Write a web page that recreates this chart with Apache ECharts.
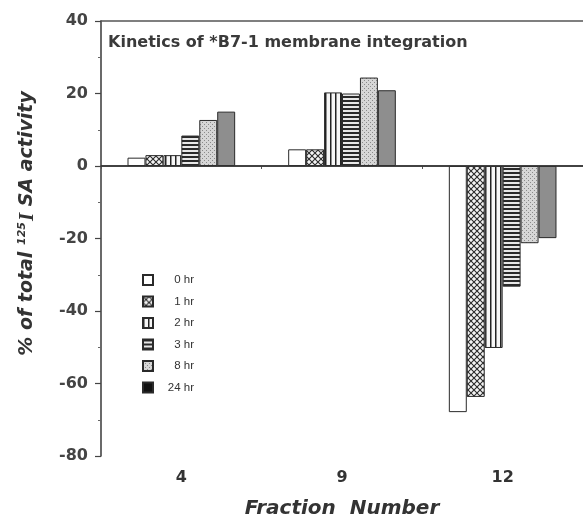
<!DOCTYPE html>
<html>
<head>
<meta charset="utf-8">
<script src="https://cdn.jsdelivr.net/npm/echarts@6/dist/echarts.min.js"></script>
<style>html,body{margin:0;padding:0;background:#fff;}#c{width:583px;height:516px;}</style>
</head>
<body>
<div id="c"></div>
<script>
// ---- data ----
const categories = ['4', '9', '12'];
const seriesNames = ['0 hr', '1 hr', '2 hr', '3 hr', '8 hr', '24 hr'];
const hr0  = [2.3, 4.6, -67.9];
const hr1  = [3.0, 4.6, -63.7];
const hr2  = [3.0, 20.3, -50.2];
const hr3  = [8.4, 20.0, -33.3];
const hr8  = [12.7, 24.4, -21.3];
const hr24 = [15.0, 20.9, -19.9];
const yTicks = { min: -80, max: 40, interval: 20 };
const titleText = 'Kinetics of *B7-1 membrane integration';

// ---- patterns ----
function pat(w, h, draw) {
  const c = document.createElement('canvas');
  c.width = w; c.height = h;
  const g = c.getContext('2d');
  draw(g, w, h);
  return { image: c, repeat: 'repeat' };
}
const fills = [
  '#ffffff',
  pat(6, 6, (g, w, h) => {
    g.fillStyle = '#f4f4f4'; g.fillRect(0, 0, w, h);
    g.strokeStyle = '#2a2a2a'; g.lineWidth = 1.1;
    g.beginPath(); g.moveTo(0, 0); g.lineTo(w, h); g.moveTo(w, 0); g.lineTo(0, h); g.stroke();
  }),
  pat(5, 5, (g, w, h) => {
    g.fillStyle = '#f6f6f6'; g.fillRect(0, 0, w, h);
    g.fillStyle = '#222'; g.fillRect(0, 0, 1.5, h);
  }),
  pat(4, 4, (g, w, h) => {
    g.fillStyle = '#e8e8e8'; g.fillRect(0, 0, w, h);
    g.fillStyle = '#2a2a2a'; g.fillRect(0, 0, w, 2);
  }),
  pat(4, 4, (g, w, h) => {
    g.fillStyle = '#d6d6d6'; g.fillRect(0, 0, w, h);
    g.fillStyle = '#8a8a8a'; g.fillRect(0, 0, 1, 1); g.fillRect(2, 2, 1, 1);
  }),
  '#8e8e8e'
];
const values = [hr0, hr1, hr2, hr3, hr8, hr24];

const chart = echarts.init(document.getElementById('c'));
const series = seriesNames.map((n, i) => ({
  name: n,
  type: 'bar',
  data: values[i],
  barGap: '0%',
  barCategoryGap: '33%',
  itemStyle: { color: fills[i], borderColor: '#2a2a2a', borderWidth: 1 },
  markLine: i === 0 ? {
    silent: true, symbol: 'none', label: { show: false },
    lineStyle: { color: '#333', width: 1.6, type: 'solid' },
    data: [{ yAxis: 0 }]
  } : undefined
}));

chart.setOption({
  animation: false,
  title: {
    text: titleText, left: 108, top: 35, padding: 0,
    textStyle: { fontFamily: 'DejaVu Sans', fontSize: 16, fontWeight: 'bold', color: '#3a3a3a' }
  },
  legend: {
    orient: 'vertical', left: 137, top: 269,
    itemWidth: 10, itemHeight: 10, itemGap: 9.5, icon: 'rect',
    data: seriesNames.map((n, i) => i === 5 ? { name: n, itemStyle: { color: '#111' } } : { name: n }),
    formatter: '{a|{name}}',
    textStyle: {
      rich: { a: { width: 36, align: 'right', fontFamily: 'Liberation Sans', fontSize: 11.5, lineHeight: 12, color: '#333' } }
    }
  },
  grid: { left: 101, right: 0, top: 21, bottom: 60, containLabel: false, outerBoundsMode: 'none' },
  xAxis: [{
    type: 'category', data: categories, position: 'bottom',
    axisLine: { lineStyle: { color: '#444', width: 1.6 } },
    axisTick: { show: true, length: 3, lineStyle: { color: '#555' } },
    axisLabel: { margin: 14, fontFamily: 'DejaVu Sans', fontSize: 16, fontWeight: 'bold', color: '#333' },
    name: 'Fraction  Number', nameLocation: 'middle', nameGap: 43,
    nameTextStyle: { fontFamily: 'DejaVu Sans', fontStyle: 'italic', fontWeight: 'bold', fontSize: 20, color: '#333' }
  }, {
    type: 'category', data: categories, position: 'top',
    axisLine: { show: true, lineStyle: { color: '#555', width: 1.6 } },
    axisTick: { show: false }, axisLabel: { show: false }
  }],
  yAxis: {
    type: 'value', min: yTicks.min, max: yTicks.max, interval: yTicks.interval,
    splitLine: { show: false },
    axisLine: { show: true, onZero: false, lineStyle: { color: '#444', width: 1.6 } },
    axisTick: { show: true, length: 6, lineStyle: { color: '#444', width: 1.2 } },
    minorTick: { show: true, splitNumber: 2, length: 3, lineStyle: { color: '#666' } },
    axisLabel: { margin: 13, fontFamily: 'DejaVu Sans', fontSize: 16, fontWeight: 'bold', color: '#444' },
    name: '% of total {sup|125}{ser|I} SA activity',
    nameLocation: 'middle', nameGap: 63, nameRotate: 90,
    nameTextStyle: {
      fontFamily: 'DejaVu Sans', fontStyle: 'italic', fontWeight: 'bold', fontSize: 19, color: '#333',
      padding: [0, 0, 0, 30],
      rich: {
        sup: { fontFamily: 'DejaVu Sans', fontStyle: 'italic', fontWeight: 'bold', fontSize: 11, color: '#333', verticalAlign: 'top', padding: [0, 1, 8, 0] },
        ser: { fontFamily: 'Liberation Serif', fontWeight: 'bold', fontSize: 21, color: '#333' }
      }
    }
  },
  series: series
});
</script>
</body>
</html>
